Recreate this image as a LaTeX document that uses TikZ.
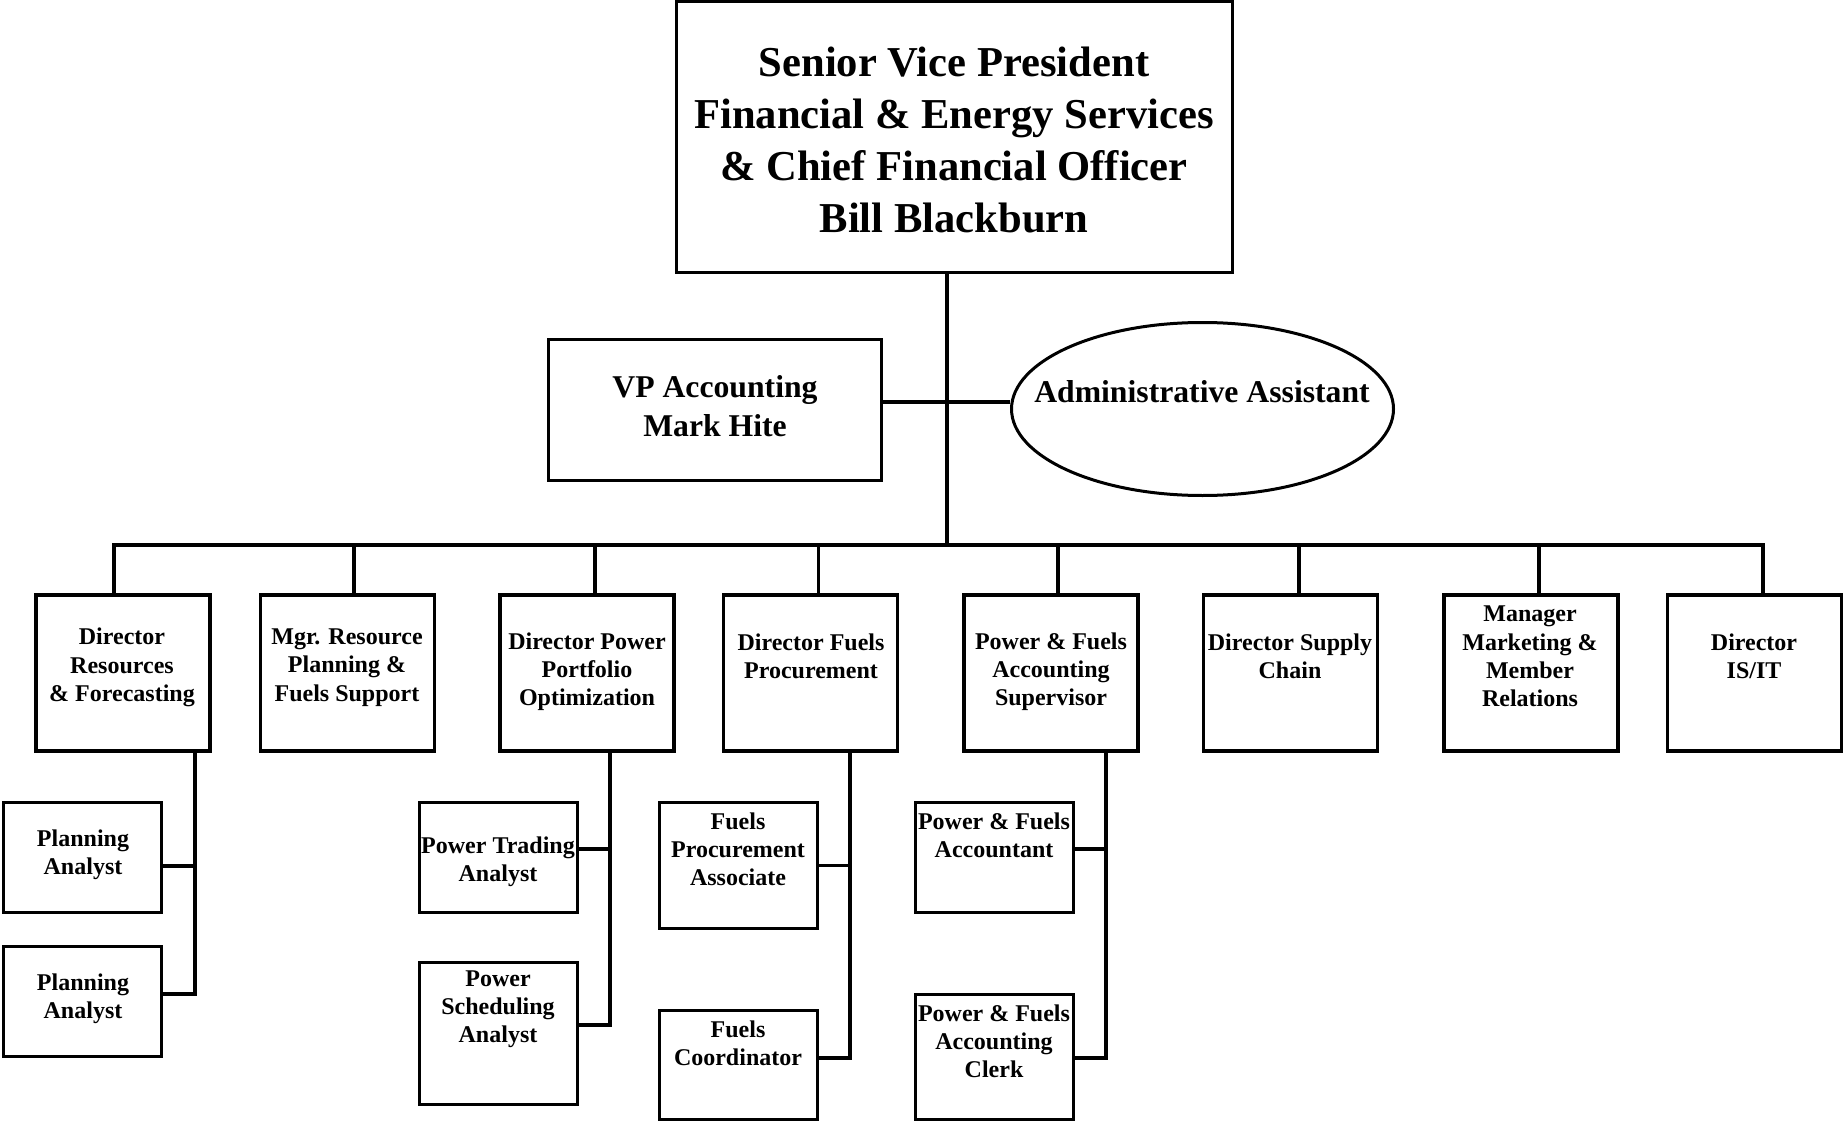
\documentclass[tikz,border=0pt]{standalone}
\usepackage{fontspec}
\setmainfont{Liberation Serif}
\usetikzlibrary{shapes.geometric}
\tikzset{
  box/.style={draw, line width=3.2pt, rectangle, inner sep=0pt},
  oval/.style={draw, line width=3pt, ellipse, inner sep=0pt},
  conn/.style={line width=3.2pt},
  tL/.style={align=center, inner sep=0pt, yshift=-1pt, font=\fontsize{42.6}{51.7}\selectfont\bfseries},
  tM/.style={align=center, inner sep=0pt, yshift=-1pt, font=\fontsize{31.7}{39}\selectfont\bfseries},
  tS/.style={align=center, inner sep=0pt, yshift=-2.5pt, font=\fontsize{24}{28.2}\selectfont\bfseries},
}
\begin{document}
\begin{tikzpicture}[x=1pt,y=-1pt]
\useasboundingbox[fill=white] (0,0) rectangle (1843,1123);

% top
\node[box, minimum width=556pt, minimum height=271pt] (top) at (954.5,137) {};
\node[tL] (ttop) at (954,139) {Senior Vice President\\Financial \& Energy Services\\\& Chief Financial Officer\\Bill Blackburn};

% VP and admin
\node[box, minimum width=333pt, minimum height=141pt] (vp) at (715,410) {};
\node[tM] (tvp) at (715,405) {VP Accounting\\Mark Hite};
\node[oval, minimum width=382pt, minimum height=173pt] (aa) at (1202.5,409) {};
\node[tM] (taa) at (1202,391) {Administrative Assistant};

% row 2
\foreach \n/\cx in {b1/123, b2/347.5, b3/587, b4/810.5, b5/1051, b6/1290.5, b7/1531, b8/1754.5}
  \node[box, minimum width=174pt, minimum height=156pt] (\n) at (\cx,673) {};
\node[tS] (t1) at (122,665) {Director\\Resources\\\& Forecasting};
\node[tS] (t2) at (347,665) {Mgr. Resource\\Planning \&\\Fuels Support};
\node[tS] (t3) at (587,669) {Director Power\\Portfolio\\Optimization};
\node[tS] (t4) at (811,654) {Director Fuels\\Procurement};
\node[tS] (t5) at (1051,669) {Power \& Fuels\\Accounting\\Supervisor};
\node[tS] (t6) at (1290,654) {Director Supply\\Chain};
\node[tS] (t7) at (1530,654) {Manager\\Marketing \&\\Member\\Relations};
\node[tS] (t8) at (1754,654) {Director\\IS/IT};

% row 3
\node[box, minimum width=158pt, minimum height=110pt] (pa1) at (82.5,857.5) {};
\node[box, minimum width=158pt, minimum height=110pt] (pa2) at (82.5,1001.5) {};
\node[box, minimum width=158pt, minimum height=110pt] (pt) at (498.5,857.5) {};
\node[box, minimum width=158pt, minimum height=142pt] (ps) at (498.5,1033.5) {};
\node[box, minimum width=158pt, minimum height=126pt] (fpa) at (738.5,865.5) {};
\node[box, minimum width=158pt, minimum height=109pt] (fc) at (738.5,1065) {};
\node[box, minimum width=158pt, minimum height=110pt] (pfa) at (994.5,857.5) {};
\node[box, minimum width=158pt, minimum height=125pt] (pfc) at (994.5,1057) {};

\node[tS] (tpa1) at (83,852) {Planning\\Analyst};
\node[tS] (tpa2) at (83,996) {Planning\\Analyst};
\node[tS] (tpt) at (498,859) {Power Trading\\Analyst};
\node[tS] (tps) at (498,1007) {Power\\Scheduling\\Analyst};
\node[tS] (tfpa) at (738,847) {Fuels\\Procurement\\Associate};
\node[tS] (tfc) at (738,1041) {Fuels\\Coordinator};
\node[tS] (tpfa) at (994,833) {Power \& Fuels\\Accountant};
\node[tS] (tpfc) at (994,1039) {Power \& Fuels\\Accounting\\Clerk};

% connectors: trunk and bus
\coordinate (tr) at ([xshift=-7.5pt]top.south);
\coordinate (bus) at (947,545);
\draw[conn] (tr) -- (bus);
\draw[conn] ([yshift=8pt]vp.east) -- ([yshift=8pt]vp.east -| aa.west);
\coordinate (k1) at ([xshift=-9pt]b1.north);
\coordinate (k2) at ([xshift=6.5pt]b2.north);
\coordinate (k3) at ([xshift=8pt]b3.north);
\coordinate (k4) at ([xshift=8pt]b4.north);
\coordinate (k5) at ([xshift=7pt]b5.north);
\coordinate (k6) at ([xshift=8.5pt]b6.north);
\coordinate (k7) at ([xshift=8pt]b7.north);
\coordinate (k8) at ([xshift=8.5pt]b8.north);
\draw[conn] (k1) -- (k1 |- bus) -- (k8 |- bus) -- (k8);
\foreach \k in {k2,k3,k4,k5,k6,k7}
  \draw[conn] (\k |- bus) -- (\k);

% sub connectors
\coordinate (d1) at ([xshift=72pt]b1.south);
\coordinate (d3) at ([xshift=23pt]b3.south);
\coordinate (d4) at ([xshift=39.5pt]b4.south);
\coordinate (d5) at ([xshift=55pt]b5.south);
\coordinate (e1) at ([yshift=-8.5pt]pa1.east);
\coordinate (e2) at ([yshift=7.5pt]pa2.east);
\coordinate (e3) at ([yshift=8.5pt]pt.east);
\coordinate (e4) at ([yshift=8.5pt]ps.east);
\coordinate (e5) at ([yshift=0pt]fpa.east);
\coordinate (e6) at ([yshift=7pt]fc.east);
\coordinate (e7) at ([yshift=8.5pt]pfa.east);
\coordinate (e8) at ([yshift=-1pt]pfc.east);
\draw[conn] (d1) |- (e2);
\draw[conn] (e1) -- (e1 -| d1);
\draw[conn] (d3) |- (e4);
\draw[conn] (e3) -- (e3 -| d3);
\draw[conn] (d4) |- (e6);
\draw[conn] (e5) -- (e5 -| d4);
\draw[conn] (d5) |- (e8);
\draw[conn] (e7) -- (e7 -| d5);
\end{tikzpicture}
\end{document}
